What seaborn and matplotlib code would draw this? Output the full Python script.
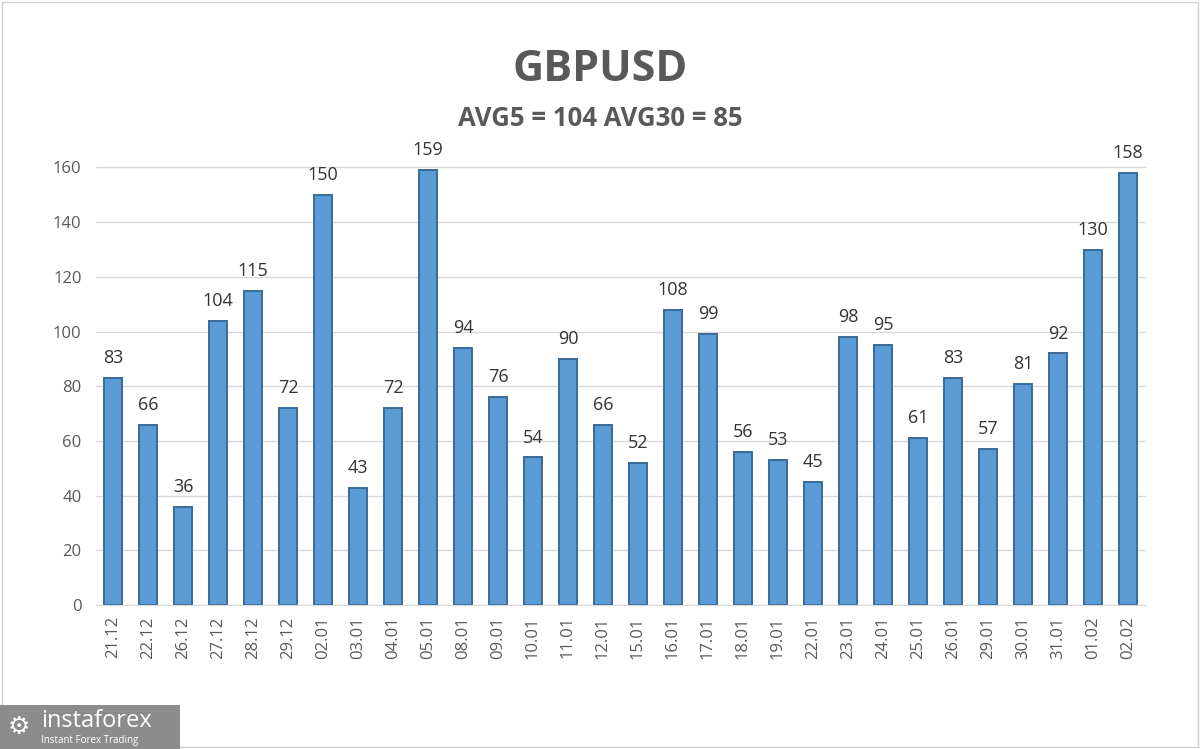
import seaborn as sns
import matplotlib.pyplot as plt
import pandas as pd
from matplotlib.patches import Rectangle

dates = ["21.12", "22.12", "26.12", "27.12", "28.12", "29.12", "02.01", "03.01",
         "04.01", "05.01", "08.01", "09.01", "10.01", "11.01", "12.01", "15.01",
         "16.01", "17.01", "18.01", "19.01", "22.01", "23.01", "24.01", "25.01",
         "26.01", "29.01", "30.01", "31.01", "01.02", "02.02"]
values = [83, 66, 36, 104, 115, 72, 150, 43, 72, 159, 94, 76, 54, 90, 66, 52,
          108, 99, 56, 53, 45, 98, 95, 61, 83, 57, 81, 92, 130, 158]
title = "GBPUSD"
subtitle = "AVG5 = 104 AVG30 = 85"

sns.set_style("white")
plt.rcParams["font.family"] = ["Open Sans", "DejaVu Sans"]

df = pd.DataFrame({"date": dates, "value": values})

fig = plt.figure(figsize=(12, 7.49), dpi=100)
fig.patch.set_facecolor("white")
ax = fig.add_axes([0.0796, 0.192, 0.875, 0.621])

sns.barplot(x="date", y="value", data=df, color="#5B9BD5", width=0.5,
            saturation=1, edgecolor="#3A6A98", linewidth=1.4, ax=ax)

for i, v in enumerate(values):
    ax.text(i, v + 4, str(v), ha="center", va="bottom", fontsize=13, color="#333333")

ax.set_ylim(0, 170)
ax.set_xlim(-0.5, len(dates) - 0.5)
ax.set_yticks(range(0, 161, 20))
ax.yaxis.grid(True, color="#D9D9D9", linewidth=1)
ax.set_axisbelow(True)
ax.set_xlabel("")
ax.set_ylabel("")
ax.tick_params(axis="x", labelrotation=90, labelsize=12, labelcolor="#595959", length=0, pad=8)
ax.tick_params(axis="y", labelsize=12, labelcolor="#595959", length=0, pad=10)
for s in ["top", "right", "left"]:
    ax.spines[s].set_visible(False)
ax.spines["bottom"].set_color("#D9D9D9")

fig.text(0.5, 0.907, title, ha="center", va="center", fontsize=31,
         fontweight="bold", color="#595959")
fig.text(0.5, 0.842, subtitle, ha="center", va="center", fontsize=18.5,
         fontweight="bold", color="#595959")

# outer border
fig.patches.append(Rectangle((0.002, 0.003), 0.996, 0.994, transform=fig.transFigure,
                             fill=False, edgecolor="#D0D0D0", linewidth=1))

# logo box
fig.patches.append(Rectangle((0.0, 0.0), 0.15, 0.059, transform=fig.transFigure,
                             facecolor="#8C8C8C", edgecolor="none"))
fig.text(0.034, 0.037, "instaforex", fontsize=17, color="white", va="center", ha="left")
fig.text(0.034, 0.012, "Instant Forex Trading", fontsize=7, color="white", va="center", ha="left")
fig.text(0.016, 0.03, "\u2699", fontsize=18, color="white", va="center", ha="center",
         family=["DejaVu Sans"])

fig.savefig("out.png", dpi=100)
